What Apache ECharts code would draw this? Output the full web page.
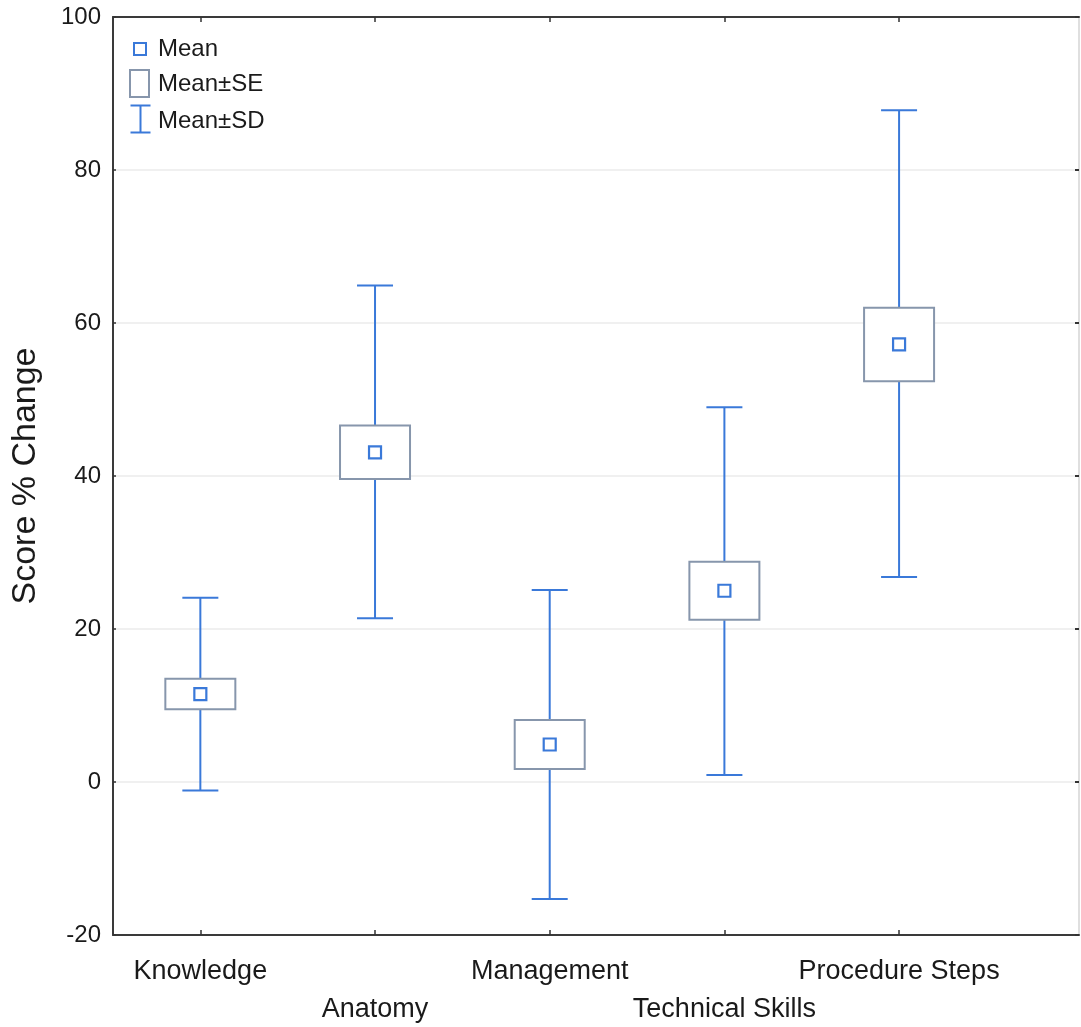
<!DOCTYPE html>
<html>
<head>
<meta charset="utf-8">
<script src="https://cdn.jsdelivr.net/npm/echarts@6/dist/echarts.min.js"></script>
<style>
html,body{margin:0;padding:0;background:#fff;}
#chart{width:1081px;height:1027px;}
</style>
</head>
<body>
<div id="chart"></div>
<script>
const categories = ['Knowledge', 'Anatomy', 'Management', 'Technical Skills', 'Procedure Steps'];
const means  = [11.5, 43.1, 4.9, 25.0, 57.2];
const seLow  = [9.5, 39.6, 1.7, 21.2, 52.4];
const seHigh = [13.5, 46.6, 8.1, 28.8, 62.0];
const sdLow  = [-1.1, 21.4, -15.3, 0.9, 26.8];
const sdHigh = [24.1, 64.9, 25.1, 49.0, 87.8];
const yTicks = [-20, 0, 20, 40, 60, 80, 100];
const xPos = categories.map((c, i) => i + 1);
const xPosRow1 = xPos.filter((x, i) => i % 2 === 0);
const xPosRow2 = xPos.filter((x, i) => i % 2 === 1);

const FONT = '"Liberation Sans", Arial, sans-serif';
const BLUE = '#3a79d9';
const BOXC = '#8796ac';

const chart = echarts.init(document.getElementById('chart'), null, {renderer: 'canvas'});

const catLabel = v => categories[Math.round(v) - 1] || '';

const option = {
  animation: false,
  backgroundColor: '#ffffff',
  grid: {left: 113, right: 2, top: 17, bottom: 92, containLabel: false},
  xAxis: [{
    type: 'value', min: 0.5, max: 6.03, position: 'bottom',
    axisLine: {show: true, onZero: false, lineStyle: {color: '#3a3a3a', width: 2}},
    axisTick: {show: true, inside: true, length: 5, customValues: xPos, lineStyle: {color: '#333', width: 1.5}},
    axisLabel: {
      show: true, customValues: xPosRow1, margin: 23, hideOverlap: false,
      fontFamily: FONT, fontSize: 27, color: '#1a1a1a', verticalAlign: 'top',
      formatter: catLabel
    },
    splitLine: {show: false}
  }, {
    type: 'value', min: 0.5, max: 6.03, position: 'bottom',
    axisLine: {show: false, onZero: false},
    axisTick: {show: false},
    axisLabel: {
      show: true, customValues: xPosRow2, margin: 61, hideOverlap: false,
      fontFamily: FONT, fontSize: 27, color: '#1a1a1a', verticalAlign: 'top',
      formatter: catLabel
    },
    splitLine: {show: false}
  }, {
    type: 'value', min: 0.5, max: 6.03, position: 'top',
    axisLine: {show: true, onZero: false, lineStyle: {color: '#3a3a3a', width: 2}},
    axisTick: {show: true, inside: true, length: 5, customValues: xPos, lineStyle: {color: '#333', width: 1.5}},
    axisLabel: {show: false},
    splitLine: {show: false}
  }],
  yAxis: [{
    type: 'value', min: -20, max: 100, interval: 20, position: 'left',
    name: 'Score % Change', nameLocation: 'middle', nameGap: 70, nameRotate: 90,
    nameTextStyle: {fontFamily: FONT, fontSize: 34, color: '#1a1a1a'},
    axisLine: {show: true, onZero: false, lineStyle: {color: '#3a3a3a', width: 2}},
    axisTick: {show: true, inside: true, length: 3, lineStyle: {color: '#333', width: 1.5}},
    axisLabel: {show: true, margin: 12, fontFamily: FONT, fontSize: 24, color: '#1a1a1a',
      formatter: v => yTicks.includes(v) ? String(v) : ''},
    splitLine: {show: true, lineStyle: {color: '#f0f0f0', width: 2}}
  }, {
    type: 'value', min: -20, max: 100, interval: 20, position: 'right',
    axisLine: {show: true, onZero: false, lineStyle: {color: '#d4d4d4', width: 1.5}},
    axisTick: {show: true, inside: true, length: 4, lineStyle: {color: '#333', width: 2}},
    axisLabel: {show: false},
    splitLine: {show: false}
  }],
  graphic: [
    {type: 'rect', left: 133, top: 42, shape: {width: 12, height: 12}, style: {fill: '#fff', stroke: BLUE, lineWidth: 2}, z: 10},
    {type: 'text', left: 158, top: 37, style: {text: 'Mean', font: '24px ' + FONT, fill: '#1a1a1a'}, z: 10},
    {type: 'rect', left: 129, top: 69, shape: {width: 19, height: 27}, style: {fill: '#fff', stroke: BOXC, lineWidth: 2}, z: 10},
    {type: 'text', left: 158, top: 72, style: {text: 'Mean±SE', font: '24px ' + FONT, fill: '#1a1a1a'}, z: 10},
    {type: 'group', left: 128, top: 103, z: 10, children: [
      {type: 'line', shape: {x1: 11, y1: 1, x2: 11, y2: 28}, style: {stroke: BLUE, lineWidth: 2}},
      {type: 'line', shape: {x1: 1, y1: 1, x2: 21, y2: 1}, style: {stroke: BLUE, lineWidth: 2}},
      {type: 'line', shape: {x1: 1, y1: 28, x2: 21, y2: 28}, style: {stroke: BLUE, lineWidth: 2}}
    ]},
    {type: 'text', left: 158, top: 109, style: {text: 'Mean±SD', font: '24px ' + FONT, fill: '#1a1a1a'}, z: 10}
  ],
  series: [
    {
      name: 'Mean±SD', type: 'custom', xAxisIndex: 0, yAxisIndex: 0, z: 2,
      data: xPos.map((x, i) => [x, sdLow[i], sdHigh[i]]),
      renderItem: function (params, api) {
        const x = api.value(0);
        const lo = api.coord([x, api.value(1)]);
        const hi = api.coord([x, api.value(2)]);
        const hw = 18;
        const st = {stroke: BLUE, lineWidth: 2};
        return {type: 'group', children: [
          {type: 'line', shape: {x1: lo[0], y1: lo[1], x2: hi[0], y2: hi[1]}, style: st},
          {type: 'line', shape: {x1: lo[0] - hw, y1: lo[1], x2: lo[0] + hw, y2: lo[1]}, style: st},
          {type: 'line', shape: {x1: hi[0] - hw, y1: hi[1], x2: hi[0] + hw, y2: hi[1]}, style: st}
        ]};
      }
    },
    {
      name: 'Mean±SE', type: 'custom', xAxisIndex: 0, yAxisIndex: 0, z: 3,
      data: xPos.map((x, i) => [x, seLow[i], seHigh[i]]),
      renderItem: function (params, api) {
        const x = api.value(0);
        const lo = api.coord([x, api.value(1)]);
        const hi = api.coord([x, api.value(2)]);
        const w = 70;
        return {type: 'rect', shape: {x: hi[0] - w / 2, y: hi[1], width: w, height: lo[1] - hi[1]},
          style: {fill: '#ffffff', stroke: BOXC, lineWidth: 2}};
      }
    },
    {
      name: 'Mean', type: 'scatter', xAxisIndex: 0, yAxisIndex: 0, z: 4,
      symbol: 'rect', symbolSize: 12,
      itemStyle: {color: '#ffffff', borderColor: BLUE, borderWidth: 2.2, opacity: 1},
      data: xPos.map((x, i) => [x, means[i]])
    }
  ]
};
chart.setOption(option);
</script>
</body>
</html>
